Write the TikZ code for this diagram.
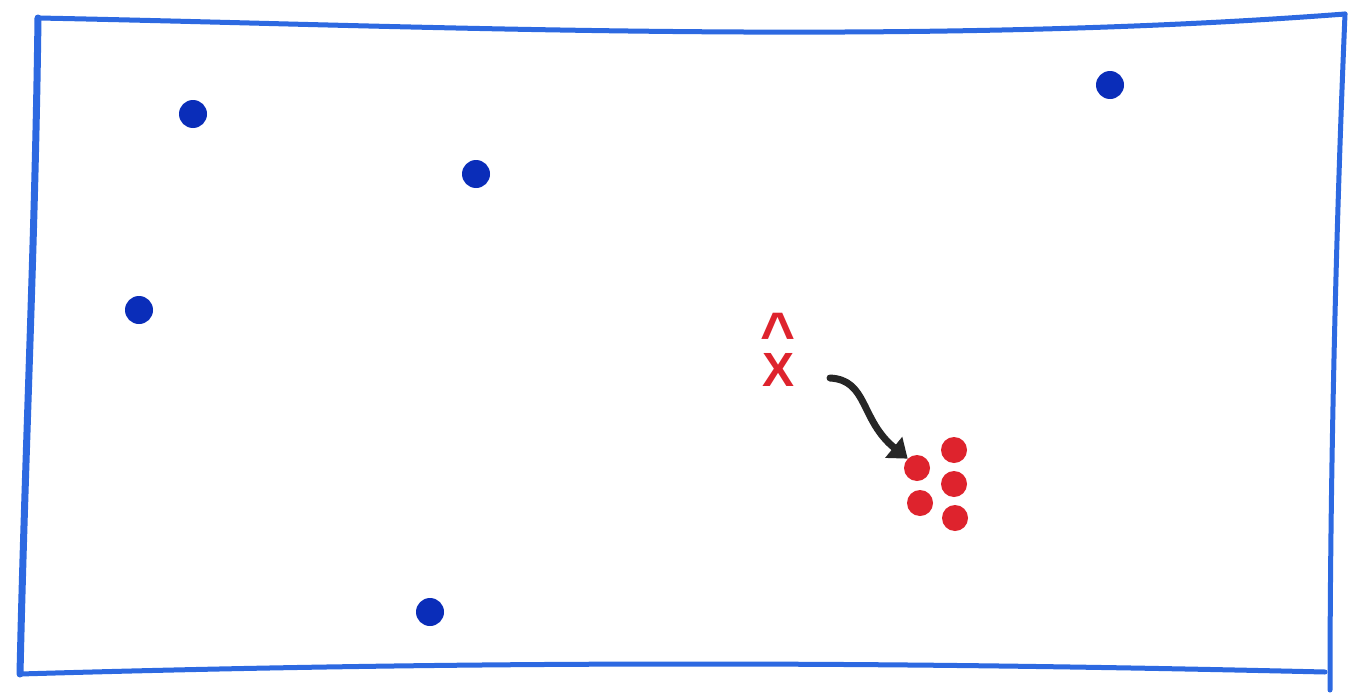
\documentclass[tikz,border=0pt]{standalone}
\usepackage{fontspec}
\setmainfont{Liberation Sans}
\usetikzlibrary{arrows.meta}
\definecolor{framebl}{RGB}{45,105,225}
\definecolor{dotbl}{RGB}{10,45,185}
\definecolor{mred}{RGB}{222,35,45}
\begin{document}
\begin{tikzpicture}[x=1pt,y=-1pt,
  framel/.style={draw=framebl,line width=5pt,line cap=round,line join=round},
  bdot/.style={circle,fill=dotbl,inner sep=0pt,minimum size=28pt},
  rdot/.style={circle,fill=mred,inner sep=0pt,minimum size=26pt},
  mark label/.style={text=mred,font=\bfseries\fontsize{48}{48}\selectfont,inner sep=0pt,align=center},
  move arrow/.style={draw=black!85,line width=7pt,line cap=round,-{Triangle[length=18pt,width=26pt]}}]
\useasboundingbox (0,0) rectangle (1349,696);
\fill[white] (0,0) rectangle (1349,696);
% frame
\coordinate (tl) at (38,18);
\coordinate (tr) at (1345,14);
\coordinate (br) at (1330,690);
\coordinate (bl) at (20,674);
\draw[framel] (tl) .. controls (400,25) and (900,48) .. (tr);
\draw[framel] (tr) .. controls (1335,250) and (1330,500) .. (br);
\draw[framel] (bl) .. controls (500,660) and (900,662) .. (1325,672);
\draw[framel,line width=7pt] (tl) .. controls (35,250) and (25,450) .. (bl);
% blue dots
\node[bdot] (b1) at (193,114) {};
\node[bdot] (b2) at (476,174) {};
\node[bdot] (b3) at (1110,85) {};
\node[bdot] (b4) at (139,310) {};
\node[bdot] (b5) at (430,612) {};
% red mark: X with hat
\node[mark label,anchor=south] (x) at (778,387) {{\fontsize{60}{60}\selectfont\textasciicircum}\\[-16pt]X};
% red dots
\node[rdot] (r1) at (954,450) {};
\node[rdot] (r2) at (917,468) {};
\node[rdot] (r3) at (954,484) {};
\node[rdot] (r4) at (920,503) {};
\node[rdot] (r5) at (955,518) {};
% arrow
\coordinate (as) at (830,378);
\draw[move arrow] (as) .. controls (868,380) and (860,420) .. (r2.north west);
\end{tikzpicture}
\end{document}
